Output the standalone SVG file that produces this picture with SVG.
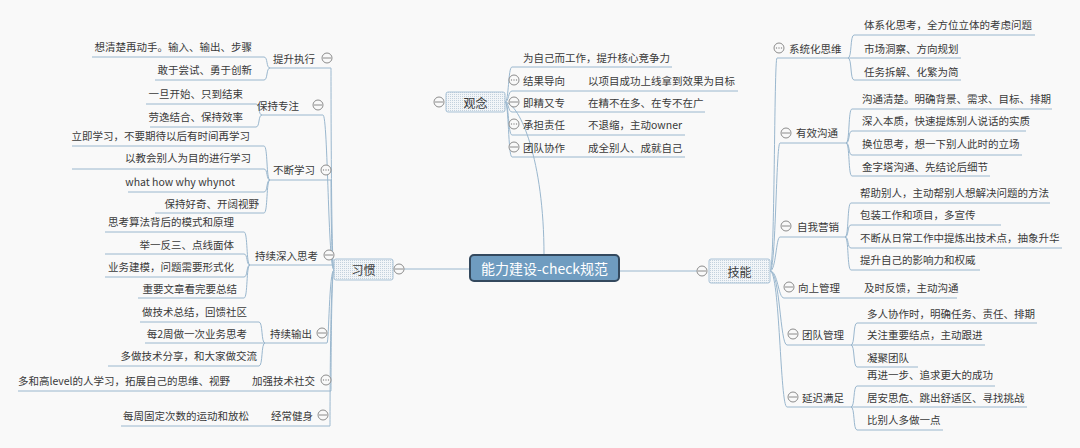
<svg xmlns="http://www.w3.org/2000/svg" width="1080" height="448" viewBox="0 0 1080 448">
<defs>
<pattern id="dots" width="2" height="2" patternUnits="userSpaceOnUse">
<rect width="2" height="2" fill="#f2f5f8"/>
<rect width="1" height="1" fill="#c3d1dd"/>
</pattern>
<style>
.t{font-family:"Noto Sans CJK SC","Noto Sans",sans-serif;font-size:10.5px;fill:#3a3a3a;dominant-baseline:central}
.m{font-size:12px}
.e{text-anchor:end}
.l{fill:none;stroke:#9ab7ce;stroke-width:1}
.box{fill:url(#dots);stroke:#a9c2d6;stroke-width:1}
.c{fill:#f9f9f9;stroke:#8c8c8c;stroke-width:1}
.cm{stroke:#8c8c8c;stroke-width:1}
.cd{fill:#8c8c8c}
</style>
</defs>
<rect width="1080" height="448" fill="#f9f9f9"/>

<g id="connectors">
<!-- main -->
<path class="l" d="M470,269 H404"/>
<path class="l" d="M619,271 H697"/>
<path class="l" d="M544,255 C544,160 520,104 505,102"/>
<!-- 观念 children -->
<path class="l" d="M505,102 C509,102 508,67 512,67 H672"/>
<path class="l" d="M505,102 C509,102 508,91 512,91 H738"/>
<path class="l" d="M505,102 C509,102 508,112 512,112 H705"/>
<path class="l" d="M505,102 C509,102 508,135 512,135 H685"/>
<path class="l" d="M505,102 C509,102 508,157 512,157 H685"/>
<!-- 习惯 trunk -->
<path class="l" d="M334,270 C331,270 331,68 331,68 H270"/>
<path class="l" d="M334,270 C328,270 328,115 323,115 H262"/>
<path class="l" d="M334,270 C331,270 331,180 331,180 H270"/>
<path class="l" d="M334,270 C333,270 334,265 334,265 H250"/>
<path class="l" d="M334,270 C329,270 329,343 327,343 H265"/>
<path class="l" d="M334,270 C331,270 331,391 331,391 H18"/>
<path class="l" d="M334,270 C330,270 330,426 330,426 H121"/>
<!-- 习惯 brackets -->
<path class="l" d="M270,68 C266,68 268,57 264,57 H92"/>
<path class="l" d="M270,68 C266,68 268,80 264,80 H155"/>
<path class="l" d="M262,115 C258,115 260,104 256,104 H146"/>
<path class="l" d="M262,115 C258,115 260,127 256,127 H150"/>
<path class="l" d="M270,180 C266,180 268,146 264,146 H72"/>
<path class="l" d="M270,180 C266,180 268,169 264,169 H72"/>
<path class="l" d="M270,180 C266,180 268,192 264,192 H128"/>
<path class="l" d="M270,180 C266,180 268,213 264,213 H155"/>
<path class="l" d="M250,265 C246,265 248,232 244,232 H105"/>
<path class="l" d="M250,265 C246,265 248,254 244,254 H105"/>
<path class="l" d="M250,265 C246,265 248,277 244,277 H105"/>
<path class="l" d="M250,265 C246,265 248,298 244,298 H138"/>
<path class="l" d="M265,343 C261,343 263,322 259,322 H140"/>
<path class="l" d="M265,343 H145"/>
<path class="l" d="M265,343 C261,343 263,366 259,366 H108"/>
<!-- 技能 trunk -->
<path class="l" d="M770,271 C775,271 774,58 777,58 H848"/>
<path class="l" d="M770,271 C776,271 776,143 780,143 H846"/>
<path class="l" d="M770,271 C776,271 776,237 780,237 H845"/>
<path class="l" d="M770,271 C778,271 778,298 784,298 H957"/>
<path class="l" d="M770,271 C780,271 780,345 787,345 H851"/>
<path class="l" d="M770,271 C780,271 780,407 787,407 H851"/>
<!-- 技能 brackets -->
<path class="l" d="M848,58 C852,58 850,35 854,35 H1035"/>
<path class="l" d="M848,58 H961"/>
<path class="l" d="M848,58 C852,58 850,80 854,80 H961"/>
<path class="l" d="M846,143 C850,143 848,109 852,109 H1052"/>
<path class="l" d="M846,143 C850,143 848,131 852,131 H1026"/>
<path class="l" d="M846,143 C850,143 848,155 852,155 H1022"/>
<path class="l" d="M846,143 C850,143 848,176 852,176 H990"/>
<path class="l" d="M845,237 C849,237 847,203 851,203 H1050"/>
<path class="l" d="M845,237 C849,237 847,225 851,225 H1001"/>
<path class="l" d="M845,237 C849,237 847,248 851,248 H1062"/>
<path class="l" d="M845,237 C849,237 847,270 851,270 H980"/>
<path class="l" d="M851,345 C855,345 853,323 857,323 H1037"/>
<path class="l" d="M851,345 H985"/>
<path class="l" d="M851,345 C855,345 853,367 857,367 H918"/>
<path class="l" d="M851,407 C855,407 853,386 857,386 H995"/>
<path class="l" d="M851,407 H1027"/>
<path class="l" d="M851,407 C855,407 853,430 857,430 H943"/>
</g>

<g id="root">
<rect x="470" y="255" width="149" height="26" rx="4" fill="#6f9cc0" stroke="#34495e" stroke-width="2"/>
<text x="544.5" y="268" text-anchor="middle" style="font-family:'Noto Sans CJK SC','Noto Sans',sans-serif;font-size:14px;fill:#ffffff;dominant-baseline:central">能力建设-check规范</text>
</g>

<g id="guannian">
<rect class="box" x="446" y="92" width="59" height="20" rx="2"/>
<text class="t m" x="475.5" y="102" text-anchor="middle">观念</text>
<circle class="c" cx="439" cy="102" r="5"/><path class="cm" d="M435,102 H443"/>
</g>
<g id="gn-1"><text class="t" x="523" y="57">为自己而工作，提升核心竞争力</text></g>
<g id="gn-2">
<circle class="c" cx="514" cy="80" r="5"/><circle class="cd" cx="511.5" cy="80" r="0.7"/><circle class="cd" cx="514" cy="80" r="0.7"/><circle class="cd" cx="516.5" cy="80" r="0.7"/>
<text class="t" x="523" y="80">结果导向</text>
<text class="t" x="588" y="80">以项目成功上线拿到效果为目标</text>
</g>
<g id="gn-3">
<circle class="c" cx="514" cy="102" r="5"/><path class="cm" d="M510,102 H518"/>
<text class="t" x="523" y="102">即精又专</text>
<text class="t" x="588" y="102">在精不在多、在专不在广</text>
</g>
<g id="gn-4">
<circle class="c" cx="514" cy="124" r="5"/><circle class="cd" cx="511.5" cy="124" r="0.7"/><circle class="cd" cx="514" cy="124" r="0.7"/><circle class="cd" cx="516.5" cy="124" r="0.7"/>
<text class="t" x="523" y="124">承担责任</text>
<text class="t" x="588" y="124">不退缩，主动owner</text>
</g>
<g id="gn-5">
<circle class="c" cx="514" cy="147" r="5"/><path class="cm" d="M510,147 H518"/>
<text class="t" x="523" y="147">团队协作</text>
<text class="t" x="588" y="147">成全别人、成就自己</text>
</g>

<g id="xiguan">
<rect class="box" x="334" y="259" width="59" height="21" rx="2"/>
<text class="t m" x="363.5" y="269.5" text-anchor="middle">习惯</text>
<circle class="c" cx="399" cy="269" r="5"/><path class="cm" d="M395,269 H403"/>
</g>
<g id="xg-1">
<text class="t e" x="315" y="58">提升执行</text>
<circle class="c" cx="327" cy="58" r="5"/><path class="cm" d="M323,58 H331"/>
<text class="t e" x="252" y="46">想清楚再动手。输入、输出、步骤</text>
<text class="t e" x="252" y="69">敢于尝试、勇于创新</text>
</g>
<g id="xg-2">
<text class="t e" x="299" y="105">保持专注</text>
<circle class="c" cx="318" cy="105" r="5"/><path class="cm" d="M314,105 H322"/>
<text class="t e" x="243" y="93">一旦开始、只到结束</text>
<text class="t e" x="243" y="116">劳逸结合、保持效率</text>
</g>
<g id="xg-3">
<text class="t e" x="315" y="169">不断学习</text>
<circle class="c" cx="326" cy="170" r="5"/><circle class="cd" cx="323.5" cy="170" r="0.7"/><circle class="cd" cx="326" cy="170" r="0.7"/><circle class="cd" cx="328.5" cy="170" r="0.7"/>
<text class="t e" x="250" y="135">立即学习，不要期待以后有时间再学习</text>
<text class="t e" x="251" y="157">以教会别人为目的进行学习</text>
<text class="t e" x="235" y="181">what how why whynot</text>
<text class="t e" x="259" y="203">保持好奇、开阔视野</text>
</g>
<g id="xg-4">
<text class="t e" x="318" y="255">持续深入思考</text>
<circle class="c" cx="329" cy="255" r="5"/><path class="cm" d="M325,255 H333"/>
<text class="t e" x="234" y="221">思考算法背后的模式和原理</text>
<text class="t e" x="234" y="244">举一反三、点线面体</text>
<text class="t e" x="234" y="266">业务建模，问题需要形式化</text>
<text class="t e" x="237" y="288">重要文章看完要总结</text>
</g>
<g id="xg-5">
<text class="t e" x="312" y="333">持续输出</text>
<circle class="c" cx="322" cy="333" r="5"/><path class="cm" d="M318,333 H326"/>
<text class="t e" x="247" y="311">做技术总结，回馈社区</text>
<text class="t e" x="247" y="333">每2周做一次业务思考</text>
<text class="t e" x="257" y="355">多做技术分享，和大家做交流</text>
</g>
<g id="xg-6">
<text class="t e" x="315" y="380">加强技术社交</text>
<circle class="c" cx="326" cy="380" r="5"/><circle class="cd" cx="323.5" cy="380" r="0.7"/><circle class="cd" cx="326" cy="380" r="0.7"/><circle class="cd" cx="328.5" cy="380" r="0.7"/>
<text class="t e" x="230" y="380">多和高level的人学习，拓展自己的思维、视野</text>
</g>
<g id="xg-7">
<text class="t e" x="313" y="415">经常健身</text>
<circle class="c" cx="323" cy="415" r="5"/><path class="cm" d="M319,415 H327"/>
<text class="t e" x="249" y="415">每周固定次数的运动和放松</text>
</g>

<g id="jineng">
<rect class="box" x="709" y="259" width="61" height="24" rx="2"/>
<text class="t m" x="739.5" y="271" text-anchor="middle">技能</text>
<circle class="c" cx="702" cy="271" r="5"/><path class="cm" d="M698,271 H706"/>
</g>
<g id="jn-1">
<circle class="c" cx="779" cy="48" r="5"/><circle class="cd" cx="776.5" cy="48" r="0.7"/><circle class="cd" cx="779" cy="48" r="0.7"/><circle class="cd" cx="781.5" cy="48" r="0.7"/>
<text class="t" x="789" y="48">系统化思维</text>
<text class="t" x="864" y="24">体系化思考，全方位立体的考虑问题</text>
<text class="t" x="864" y="48">市场洞察、方向规划</text>
<text class="t" x="864" y="71">任务拆解、化繁为简</text>
</g>
<g id="jn-2">
<circle class="c" cx="786" cy="133" r="5"/><path class="cm" d="M782,133 H790"/>
<text class="t" x="796" y="132">有效沟通</text>
<text class="t" x="862" y="98">沟通清楚。明确背景、需求、目标、排期</text>
<text class="t" x="862" y="120">深入本质，快速提炼别人说话的实质</text>
<text class="t" x="862" y="143">换位思考，想一下别人此时的立场</text>
<text class="t" x="862" y="166">金字塔沟通、先结论后细节</text>
</g>
<g id="jn-3">
<circle class="c" cx="786" cy="226" r="5"/><path class="cm" d="M782,226 H790"/>
<text class="t" x="797" y="226">自我营销</text>
<text class="t" x="860" y="192">帮助别人，主动帮别人想解决问题的方法</text>
<text class="t" x="860" y="214">包装工作和项目，多宣传</text>
<text class="t" x="860" y="237">不断从日常工作中提炼出技术点，抽象升华</text>
<text class="t" x="860" y="259">提升自己的影响力和权威</text>
</g>
<g id="jn-4">
<circle class="c" cx="789" cy="287" r="5"/><path class="cm" d="M785,287 H793"/>
<text class="t" x="798" y="287">向上管理</text>
<text class="t" x="864" y="287">及时反馈，主动沟通</text>
</g>
<g id="jn-5">
<circle class="c" cx="793" cy="334" r="5"/><path class="cm" d="M789,334 H797"/>
<text class="t" x="802" y="334">团队管理</text>
<text class="t" x="867" y="313">多人协作时，明确任务、责任、排期</text>
<text class="t" x="867" y="334">关注重要结点，主动跟进</text>
<text class="t" x="867" y="357">凝聚团队</text>
</g>
<g id="jn-6">
<circle class="c" cx="793" cy="397" r="5"/><path class="cm" d="M789,397 H797"/>
<text class="t" x="802" y="397">延迟满足</text>
<text class="t" x="867" y="374">再进一步、追求更大的成功</text>
<text class="t" x="867" y="397">居安思危、跳出舒适区、寻找挑战</text>
<text class="t" x="867" y="419">比别人多做一点</text>
</g>
</svg>
